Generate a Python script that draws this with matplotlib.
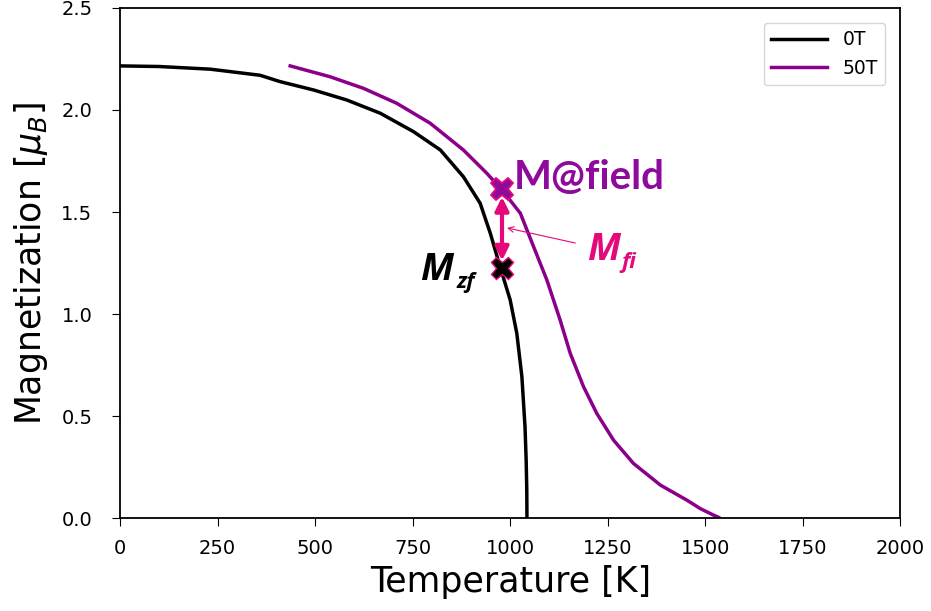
import matplotlib.pyplot as plt

# zero field curve
t_0T = [0, 100, 231, 359, 410, 496, 581, 667, 752, 821, 880, 923, 949, 974,
        1000, 1017, 1030, 1038, 1041, 1042.5, 1043]
m_0T = [2.216, 2.213, 2.20, 2.17, 2.139, 2.098, 2.049, 1.984, 1.894, 1.804,
        1.673, 1.543, 1.396, 1.232, 1.069, 0.905, 0.693, 0.448, 0.28, 0.14, 0.0]

# 50 T curve
t_50T = [436, 538, 624, 709, 795, 880, 940, 979, 1026, 1060, 1094, 1128, 1154,
         1188, 1222, 1265, 1316, 1385, 1453, 1487, 1521, 1534]
m_50T = [2.216, 2.163, 2.106, 2.033, 1.935, 1.804, 1.69, 1.608, 1.494, 1.33,
         1.167, 0.971, 0.807, 0.644, 0.513, 0.382, 0.268, 0.162, 0.088, 0.047,
         0.015, 0.004]

# marked points
t_mark = 979
m_zf = 1.225
m_field = 1.615

PINK = "#E5087A"
PURPLE = "#8E0A9C"
LBL_FONT = ["Open Sans", "DejaVu Sans"]

fig, ax = plt.subplots(figsize=(9.31, 6.11), dpi=100)
fig.subplots_adjust(left=0.129, right=0.967, bottom=0.152, top=0.987)

ax.plot(t_0T, m_0T, color="black", linewidth=2.5, label="0T")
ax.plot(t_50T, m_50T, color="#8B008B", linewidth=2.5, label="50T")

# double arrow between the two points
ax.annotate("", xy=(t_mark, 1.574), xytext=(t_mark, 1.262),
            arrowprops=dict(arrowstyle="<|-|>", color=PINK, lw=3,
                            mutation_scale=20, shrinkA=0, shrinkB=0))

ax.plot(t_mark, m_field, marker="X", markersize=16, color=PURPLE,
        markeredgecolor=PINK, markeredgewidth=1.3, zorder=5)
ax.plot(t_mark, m_zf, marker="X", markersize=16, color="black",
        markeredgecolor=PINK, markeredgewidth=1.0, zorder=5)

ax.text(1008, 1.667, "M@field", color=PURPLE, fontsize=29,
        fontweight="bold", family="Lato", va="center", ha="left")

# M_zf label
ax.text(769, 1.167, "M", color="black", fontsize=27, fontweight="bold",
        style="italic", family=LBL_FONT, va="baseline", ha="left")
ax.text(862, 1.13, "zf", color="black", fontsize=16, fontweight="bold",
        style="italic", family=LBL_FONT, va="baseline", ha="left")

# M_fi label
ax.text(1197, 1.265, "M", color=PINK, fontsize=27, fontweight="bold",
        style="italic", family=LBL_FONT, va="baseline", ha="left")
ax.text(1286, 1.228, "fi", color=PINK, fontsize=16, fontweight="bold",
        style="italic", family=LBL_FONT, va="baseline", ha="left")
ax.annotate("", xy=(992, 1.422), xytext=(1167, 1.348),
            arrowprops=dict(arrowstyle="->", color=PINK, lw=0.8,
                            shrinkA=0, shrinkB=0))

ax.set_xlim(0, 2000)
ax.set_ylim(0, 2.5)
ax.set_xticks([0, 250, 500, 750, 1000, 1250, 1500, 1750, 2000])
ax.set_yticks([0.0, 0.5, 1.0, 1.5, 2.0, 2.5])
ax.tick_params(axis="both", labelsize=14, length=6)
ax.tick_params(axis="x", pad=9)
ax.tick_params(axis="y", pad=14)
ax.set_xlabel("Temperature [K]", fontsize=25, labelpad=5)
ax.set_ylabel(r"Magnetization [$\mu_B$]", fontsize=25, labelpad=8)
ax.legend(loc="upper right", fontsize=13.5, handlelength=3.0,
          borderaxespad=0.8)

for s in ax.spines.values():
    s.set_linewidth(1.3)

fig.savefig("out.png", dpi=100)
